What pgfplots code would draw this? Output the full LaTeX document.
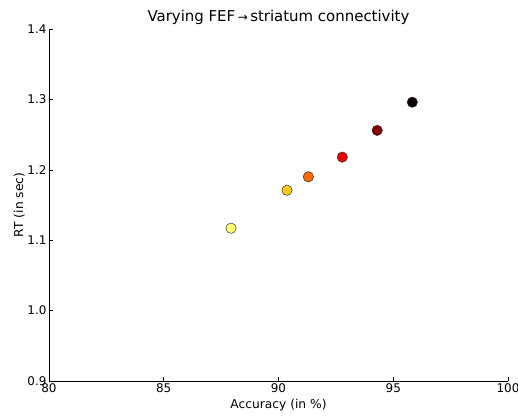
\documentclass[border=0pt]{standalone}
\usepackage{pgfplots}
\pgfplotsset{compat=1.18}
\usepackage{fontspec}
\setmainfont{DejaVu Sans}
\definecolor{c1}{RGB}{255,255,110}
\definecolor{c2}{RGB}{255,200,20}
\definecolor{c3}{RGB}{255,105,0}
\definecolor{c4}{RGB}{235,0,0}
\definecolor{c5}{RGB}{130,0,0}
\definecolor{c6}{RGB}{8,0,0}
\begin{document}
\begin{tikzpicture}
\useasboundingbox (-49bp,-35bp) rectangle (469bp,381bp);
\begin{axis}[
  at={(0,0)}, anchor=south west,
  scale only axis, width=459bp, height=352bp,
  xmin=80, xmax=100, ymin=0.9, ymax=1.4,
  xtick={80,85,90,95,100}, ytick={0.9,1.0,1.1,1.2,1.3,1.4},
  yticklabel style={xshift=1bp, /pgf/number format/.cd, fixed, fixed zerofill, precision=1},
  axis x line*=bottom, axis y line*=left,
  axis line style={line width=0.8pt, -},
  tick align=inside, major tick length=4bp,
  tick style={black, line width=0.6pt},
  /pgf/number format/assume math mode=true,
  ticklabel style={font=\fontsize{12}{14}\selectfont},
  xticklabel style={yshift=1bp},
  label style={font=\fontsize{12.3}{14}\selectfont},
  title style={font=\fontsize{15}{18}\selectfont, yshift=-5bp},
  xtick pos=bottom, ytick pos=left,
  xlabel={Accuracy (in \%)}, ylabel={RT (in sec)},
  xlabel style={yshift=0bp}, ylabel style={yshift=-4bp},
  title={Varying FEF\,{\fontsize{12}{14}\selectfont →}\,striatum connectivity},
  clip=false,
]
\addplot[only marks, mark=*, mark size=5.2bp, mark options={fill=c1, draw=black!80, line width=0.5pt}] coordinates {(87.93,1.117)};
\addplot[only marks, mark=*, mark size=5.2bp, mark options={fill=c2, draw=black!80, line width=0.5pt}] coordinates {(90.37,1.171)};
\addplot[only marks, mark=*, mark size=5.2bp, mark options={fill=c3, draw=black!80, line width=0.5pt}] coordinates {(91.30,1.190)};
\addplot[only marks, mark=*, mark size=5.2bp, mark options={fill=c4, draw=black!80, line width=0.5pt}] coordinates {(92.78,1.218)};
\addplot[only marks, mark=*, mark size=5.2bp, mark options={fill=c5, draw=black!80, line width=0.5pt}] coordinates {(94.30,1.256)};
\addplot[only marks, mark=*, mark size=5.2bp, mark options={fill=c6, draw=black!80, line width=0.5pt}] coordinates {(95.83,1.296)};
\end{axis}
\end{tikzpicture}
\end{document}
